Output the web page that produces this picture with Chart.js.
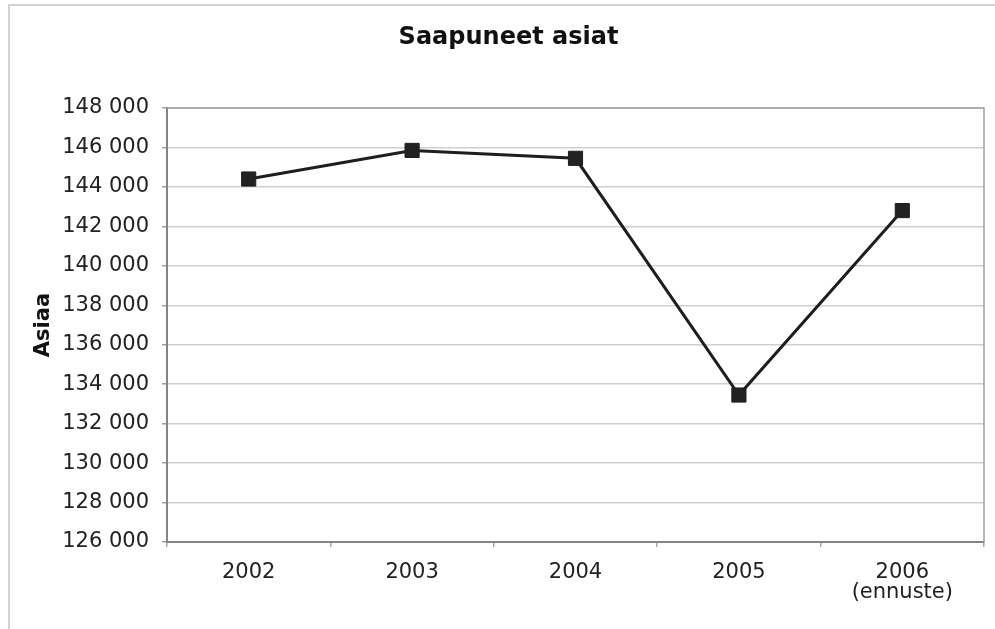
<!DOCTYPE html>
<html>
<head>
<meta charset="utf-8">
<script src="https://cdn.jsdelivr.net/npm/chart.js@4"></script>
<style>
    html, body { margin: 0; padding: 0; background: #fff; overflow: hidden; }
    #wrap { position: absolute; left: 0; top: 0; width: 995px; height: 629px; }
    #frame { position: absolute; left: 8px; top: 4px; width: 2000px; height: 2000px;
             border: 2px solid #d2d2d2; pointer-events: none; }
</style>
</head>
<body>
<div id="wrap"><canvas id="lineChart" width="995" height="629"></canvas></div>
<div id="frame"></div>
<script>
// === SAAPUNEET ASIAT ===
const years = ["2002", "2003", "2004", "2005", ["2006", "(ennuste)"]];
const arrived = [144400, 145850, 145450, 133450, 142800];
const yMin = 126000;
const yMax = 148000;
const yStep = 2000;

const fmt = v => String(v).replace(/\B(?=(\d{3})+(?!\d))/g, " ");

// plot area frame (top + right edges)
const plotFrame = {
    id: "plotFrame",
    beforeDatasetsDraw(chart) {
        const { ctx, chartArea: a } = chart;
        ctx.save();
        ctx.strokeStyle = "#a0a0a0";
        ctx.lineWidth = 1.5;
        ctx.beginPath();
        ctx.moveTo(a.left, a.top);
        ctx.lineTo(a.right, a.top);
        ctx.lineTo(a.right, a.bottom);
        ctx.stroke();
        ctx.restore();
    }
};

const lineChart = new Chart(document.getElementById("lineChart"), {
    type: "line",
    data: {
        labels: years,
        datasets: [{
            label: "Saapuneet asiat",
            data: arrived,
            borderColor: "#1e1e1e",
            borderWidth: 3,
            backgroundColor: "#222",
            pointStyle: "rect",
            pointRadius: 10,
            pointBorderWidth: 1,
            pointBorderColor: "#1e1e1e",
            pointBackgroundColor: "#222",
            tension: 0
        }]
    },
    options: {
        responsive: false,
        animation: false,
        devicePixelRatio: 1,
        layout: { padding: { left: 26, right: 4, top: 0, bottom: 0 } },
        plugins: {
            legend: { display: false },
            tooltip: { enabled: false },
            title: {
                display: true,
                text: "Saapuneet asiat",
                color: "#111",
                font: { family: "DejaVu Sans", size: 24, weight: "bold" },
                padding: { top: 23.6, bottom: 55.6 }
            }
        },
        scales: {
            x: {
                offset: true,
                grid: {
                    offset: true,
                    drawOnChartArea: false,
                    tickLength: 5,
                    tickColor: "#a8a8a8",
                    lineWidth: 1.5
                },
                border: { color: "#858585", width: 2 },
                ticks: {
                    color: "#222",
                    padding: 16,
                    maxRotation: 0,
                    autoSkip: false,
                    font: { family: "DejaVu Sans", size: 21, lineHeight: 0.95 }
                },
                afterFit(scale) {
                    scale.height = 87;
                    scale.paddingLeft = 0;
                    scale.paddingRight = 0;
                }
            },
            y: {
                min: yMin,
                max: yMax,
                grid: {
                    color: "#cfcfcf",
                    lineWidth: 1.5,
                    tickLength: 5,
                    tickColor: "#a0a0a0"
                },
                border: { color: "#858585", width: 2 },
                ticks: {
                    stepSize: yStep,
                    color: "#222",
                    padding: 13,
                    font: { family: "DejaVu Sans", size: 21 },
                    callback: v => fmt(v)
                },
                title: {
                    display: true,
                    text: "Asiaa",
                    color: "#111",
                    padding: { top: 5.4, bottom: 0 },
                    font: { family: "DejaVu Sans", size: 21, weight: "bold" }
                },
                afterFit(scale) { scale.width = 141; }
            }
        }
    },
    plugins: [plotFrame]
});
</script>
</body>
</html>
